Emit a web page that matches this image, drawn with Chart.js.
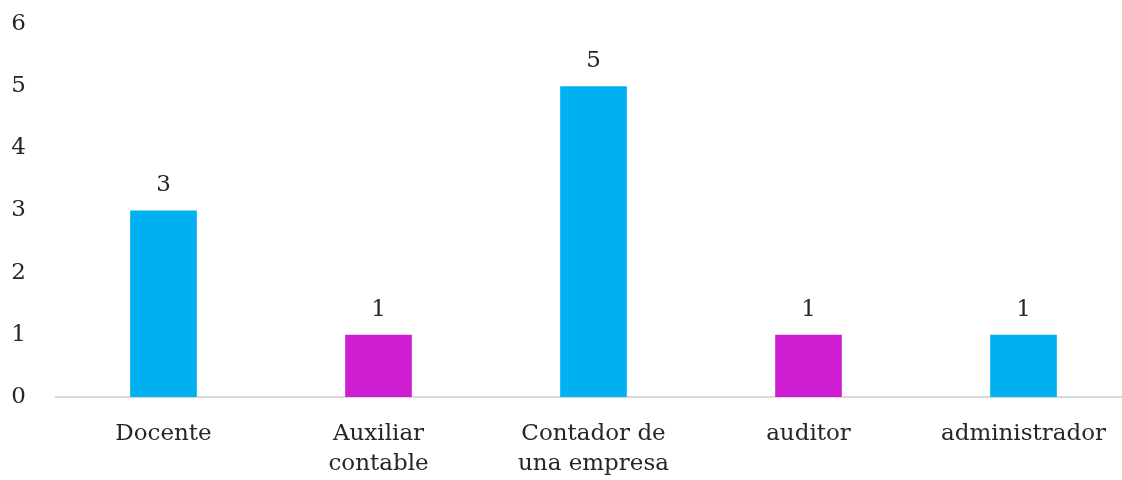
<!DOCTYPE html>
<html>
<head>
<meta charset="utf-8">
<script src="https://cdn.jsdelivr.net/npm/chart.js@4/dist/chart.umd.min.js"></script>
<style>
  html, body { margin: 0; padding: 0; background: #fff; overflow: hidden; }
  #wrap { width: 1131px; height: 480px; }
</style>
</head>
<body>
<div id="wrap"><canvas id="barChart"></canvas></div>
<script>
  // Chart data
  const categories = ['Docente', ['Auxiliar', 'contable'], ['Contador de', 'una empresa'], 'auditor', 'administrador'];
  const counts = [3, 1, 5, 1, 1];
  const barColors = ['#00B0F0', '#D01FD2', '#00B0F0', '#D01FD2', '#00B0F0'];
  const yTicks = [0, 1, 2, 3, 4, 5, 6];

  const fontFamily = '"DejaVu Serif", serif';

  // Draw the value above each bar
  const valueLabels = {
    id: 'valueLabels',
    afterDatasetsDraw(chart) {
      const ctx = chart.ctx;
      const meta = chart.getDatasetMeta(0);
      ctx.save();
      ctx.font = '23px ' + fontFamily;
      ctx.fillStyle = '#262626';
      ctx.textAlign = 'center';
      ctx.textBaseline = 'middle';
      meta.data.forEach((bar, i) => {
        ctx.fillText(counts[i], bar.x, bar.y - 25);
      });
      ctx.restore();
    }
  };

  const ctx = document.getElementById('barChart').getContext('2d');
  new Chart(ctx, {
    type: 'bar',
    data: {
      labels: categories,
      datasets: [{
        data: counts,
        backgroundColor: barColors,
        borderWidth: 0,
        categoryPercentage: 1,
        barPercentage: 0.31
      }]
    },
    options: {
      responsive: true,
      maintainAspectRatio: false,
      animation: false,
      layout: { padding: { top: 24, left: 0, right: 0, bottom: 0 } },
      plugins: {
        legend: { display: false },
        tooltip: { enabled: false }
      },
      scales: {
        x: {
          afterFit(axis) { axis.height = 83; },
          grid: { display: false, drawTicks: false },
          border: { display: true, color: '#D9D9D9', width: 2 },
          ticks: {
            color: '#262626',
            font: { family: fontFamily, size: 23, lineHeight: 1.3 },
            padding: 22,
            maxRotation: 0,
            autoSkip: false
          }
        },
        y: {
          min: 0,
          max: 6,
          afterBuildTicks(axis) {
            axis.ticks = yTicks.map(v => ({ value: v }));
          },
          afterFit(axis) {
            axis.width = 56;
            axis.paddingTop = 0;
            axis.paddingBottom = 0;
          },
          grid: { display: false, drawTicks: false },
          border: { display: false },
          ticks: {
            color: '#262626',
            font: { family: fontFamily, size: 23 },
            padding: 30
          }
        }
      }
    },
    plugins: [valueLabels]
  });
</script>
</body>
</html>
